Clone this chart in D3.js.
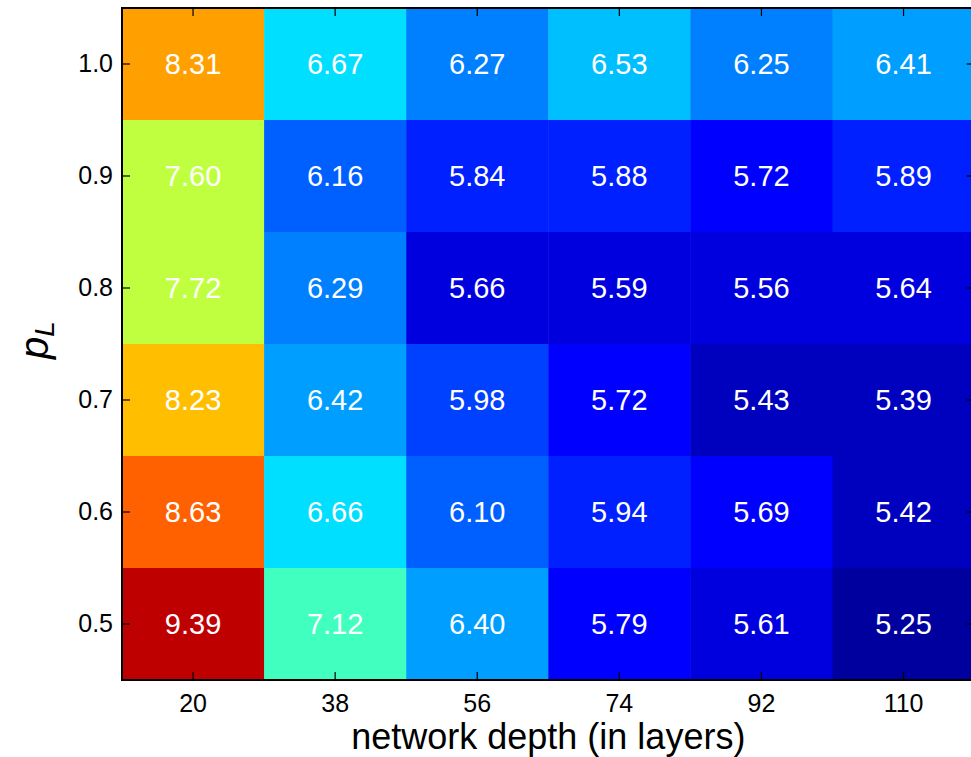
<!DOCTYPE html>
<html>
<head>
<meta charset="utf-8">
<script src="https://cdn.jsdelivr.net/npm/d3@7"></script>
<style>
  html, body { margin: 0; padding: 0; background: #fff; }
  svg { display: block; font-family: "Liberation Sans", Arial, Helvetica, sans-serif; }
</style>
</head>
<body>
<svg id="chart" width="971" height="757"></svg>
<script>
// ---- data ----
const depths = ["20", "38", "56", "74", "92", "110"];
const pLevels = ["1.0", "0.9", "0.8", "0.7", "0.6", "0.5"];
const errRow10 = [8.31, 6.67, 6.27, 6.53, 6.25, 6.41];
const errRow09 = [7.60, 6.16, 5.84, 5.88, 5.72, 5.89];
const errRow08 = [7.72, 6.29, 5.66, 5.59, 5.56, 5.64];
const errRow07 = [8.23, 6.42, 5.98, 5.72, 5.43, 5.39];
const errRow06 = [8.63, 6.66, 6.10, 5.94, 5.69, 5.42];
const errRow05 = [9.39, 7.12, 6.40, 5.79, 5.61, 5.25];
const rows = [errRow10, errRow09, errRow08, errRow07, errRow06, errRow05];
const colorLimits = [5.25, 9.667];
const colorLevels = 32;

const cells = [];
rows.forEach((r, i) => r.forEach((v, j) => cells.push({ p: pLevels[i], d: depths[j], v })));

// ---- layout ----
const svg = d3.select("#chart");
const mLeft = 122, mTop = 8, plotW = 852.6, plotH = 672;

const x = d3.scaleBand().domain(depths).range([mLeft, mLeft + plotW]);
const y = d3.scaleBand().domain(pLevels).range([mTop, mTop + plotH]);

// discrete jet colormap (MATLAB-style, 32 levels)
function jet(t) {
  const c = v => Math.max(0, Math.min(1, v));
  const r = c(1.5 - Math.abs(4 * t - 3));
  const g = c(1.5 - Math.abs(4 * t - 2));
  const b = c(1.5 - Math.abs(4 * t - 1));
  return d3.rgb(r * 255, g * 255, b * 255).toString();
}
const levelScale = d3.scaleQuantize().domain(colorLimits).range(d3.range(1, colorLevels + 1));
const color = v => jet(levelScale(v) / colorLevels);

// cells
svg.append("g").selectAll("rect").data(cells).join("rect")
  .attr("x", d => x(d.d)).attr("y", d => y(d.p))
  .attr("width", x.bandwidth() + 0.5).attr("height", y.bandwidth() + 0.5)
  .attr("fill", d => color(d.v));

// cell labels
svg.append("g").selectAll("text").data(cells).join("text")
  .attr("x", d => x(d.d) + x.bandwidth() / 2)
  .attr("y", d => y(d.p) + y.bandwidth() / 2)
  .attr("dy", "0.36em")
  .attr("text-anchor", "middle")
  .attr("fill", "#fff")
  .style("font-size", "29px")
  .text(d => d.v.toFixed(2));

// axes
const tickLen = 8;
const gx = svg.append("g").attr("transform", `translate(0,${mTop + plotH})`)
  .call(d3.axisBottom(x).tickSizeInner(-tickLen).tickSizeOuter(0).tickPadding(14));
const gy = svg.append("g").attr("transform", `translate(${mLeft},0)`)
  .call(d3.axisLeft(y).tickSizeInner(-tickLen).tickSizeOuter(0).tickPadding(9));
const gt = svg.append("g").attr("transform", `translate(0,${mTop})`)
  .call(d3.axisTop(x).tickSizeInner(-tickLen).tickSizeOuter(0).tickFormat(""));
const gr = svg.append("g").attr("transform", `translate(${mLeft + plotW},0)`)
  .call(d3.axisRight(y).tickSizeInner(-tickLen).tickSizeOuter(0).tickFormat(""));
[gx, gy, gt, gr].forEach(g => {
  g.attr("font-size", null).attr("font-family", null);
  g.select(".domain").remove();
  g.selectAll(".tick line").attr("stroke", "#000").attr("stroke-width", 1.2);
  g.selectAll(".tick text").attr("fill", "#000")
    .style("font-size", "25px")
    .style("font-family", "'Liberation Sans', Arial, sans-serif");
});

// frame
svg.append("rect")
  .attr("x", mLeft).attr("y", mTop).attr("width", plotW).attr("height", plotH)
  .attr("fill", "none").attr("stroke", "#000").attr("stroke-width", 2);

// axis titles
svg.append("text")
  .attr("x", mLeft + plotW / 2).attr("y", 749)
  .attr("text-anchor", "middle")
  .style("font-size", "36px")
  .attr("fill", "#000")
  .text("network depth (in layers)");

const yl = svg.append("text")
  .attr("transform", "translate(48,340) rotate(-90)")
  .attr("text-anchor", "middle")
  .style("font-size", "40px")
  .attr("fill", "#000");
yl.append("tspan").attr("font-style", "italic").text("p");
yl.append("tspan").attr("font-style", "italic").style("font-size", "28px").attr("dy", 6).text("L");
</script>
</body>
</html>
